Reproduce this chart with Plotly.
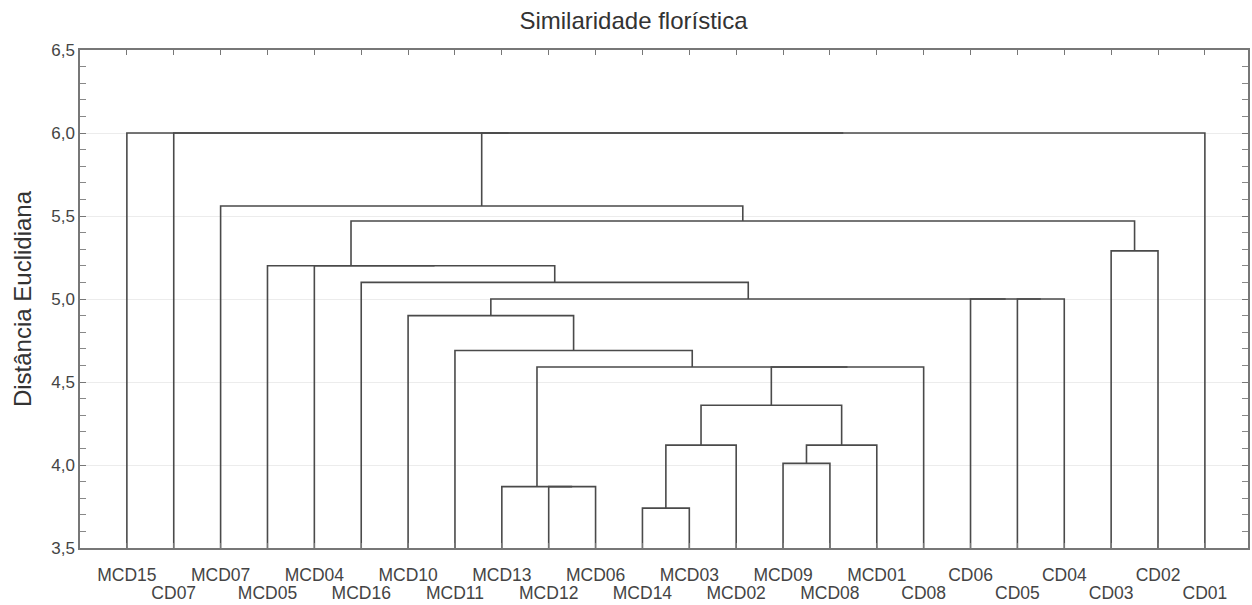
import plotly.graph_objects as go

# ---- data ----
leaves = ["MCD15", "CD07", "MCD07", "MCD05", "MCD04", "MCD16", "MCD10", "MCD11",
          "MCD13", "MCD12", "MCD06", "MCD14", "MCD03", "MCD02", "MCD09", "MCD08",
          "MCD01", "CD08", "CD06", "CD05", "CD04", "CD03", "CD02", "CD01"]

# merges: new cluster name, left member, right member, linkage distance
merge_names = ["c1", "c2", "c3", "c4", "c5", "c6", "c7", "c8", "c9", "c10", "c11", "c12",
               "c13", "c14", "c15", "c16", "c17", "c18", "c19", "c20", "c21", "c22", "c23"]
merge_left = ["MCD14", "MCD12", "MCD13", "MCD09", "c1", "c4", "c5", "c7", "c3", "MCD11",
              "MCD10", "CD05", "CD06", "c11", "MCD16", "MCD04", "MCD05", "CD03", "c17",
              "MCD07", "c20", "CD07", "MCD15"]
merge_right = ["MCD03", "MCD06", "c2", "MCD08", "MCD02", "MCD01", "c6", "CD08", "c8", "c9",
               "c10", "CD04", "c12", "c13", "c14", "c15", "c16", "CD02", "c18", "c19",
               "CD01", "c21", "c22"]
merge_height = [3.74, 3.87, 3.87, 4.01, 4.12, 4.12, 4.36, 4.59, 4.59, 4.69, 4.90, 5.00,
                5.00, 5.00, 5.10, 5.20, 5.20, 5.29, 5.47, 5.56, 6.00, 6.00, 6.00]

y_ticks = [3.5, 4.0, 4.5, 5.0, 5.5, 6.0, 6.5]
baseline = 3.5

# ---- build dendrogram geometry ----
pos = {name: i + 1 for i, name in enumerate(leaves)}
hgt = {name: baseline for name in leaves}
xs, ys = [], []
for name, l, r, h in zip(merge_names, merge_left, merge_right, merge_height):
    xs += [pos[l], pos[l], pos[r], pos[r], None]
    ys += [hgt[l], h, h, hgt[r], None]
    pos[name] = (pos[l] + pos[r]) / 2
    hgt[name] = h

tick_vals = list(range(1, len(leaves) + 1))
row1_text = [n if i % 2 == 0 else "" for i, n in enumerate(leaves)]
row2_vals = [v for i, v in enumerate(tick_vals) if i % 2 == 1]
row2_text = [n for i, n in enumerate(leaves) if i % 2 == 1]

FONT = "Liberation Sans, Arial, sans-serif"
X_RANGE = [0, 24.92]

fig = go.Figure()
fig.add_trace(go.Scatter(x=xs, y=ys, mode="lines",
                         line=dict(color="#4a4a4a", width=1.6),
                         hoverinfo="skip", showlegend=False))
fig.add_trace(go.Scatter(x=[None], y=[None], xaxis="x2", yaxis="y", mode="lines",
                         hoverinfo="skip", showlegend=False))

fig.update_layout(
    width=1252, height=605,
    margin=dict(l=80, r=2, t=50, b=48),
    paper_bgcolor="white", plot_bgcolor="white",
    separators=",.",
    font=dict(family=FONT, color="#444444", size=17),
    title=dict(text="Similaridade florística", x=0.506, xanchor="center",
               y=1 - 21 / 605, yanchor="middle",
               font=dict(family=FONT, size=24, color="#333333")),
    showlegend=False,
    xaxis=dict(
        range=X_RANGE,
        tickmode="array", tickvals=tick_vals, ticktext=row1_text, tickangle=0,
        ticks="inside", ticklen=5, tickcolor="#777777",
        showline=True, linecolor="#777777", linewidth=1.5, mirror="allticks",
        showgrid=False, zeroline=False, ticklabelstandoff=10,
        tickfont=dict(family=FONT, size=17.5, color="#444444"),
    ),
    xaxis2=dict(
        range=X_RANGE, overlaying="x", side="bottom", anchor="y",
        tickmode="array", tickvals=row2_vals, ticktext=row2_text, tickangle=0,
        ticks="", showline=False, showgrid=False, zeroline=False,
        ticklabelstandoff=32,
        tickfont=dict(family=FONT, size=17.5, color="#444444"),
    ),
    yaxis=dict(
        range=[3.5, 6.5],
        tickmode="array", tickvals=y_ticks, tickformat=".1f",
        ticks="inside", ticklen=6, tickcolor="#777777",
        minor=dict(dtick=0.1, ticks="inside", ticklen=3, tickcolor="#888888", showgrid=False),
        showline=True, linecolor="#777777", linewidth=1.5, mirror="allticks",
        showgrid=True, gridcolor="#ececec", gridwidth=1, zeroline=False,
        tickfont=dict(family=FONT, size=17, color="#444444"),
    ),
)
fig.add_annotation(text="Distância Euclidiana", textangle=-90,
                   xref="paper", yref="paper", x=(22 - 80) / 1170, y=0.5,
                   xanchor="center", yanchor="middle", showarrow=False,
                   font=dict(family=FONT, size=24, color="#333333"))

fig.write_html("out.html")
